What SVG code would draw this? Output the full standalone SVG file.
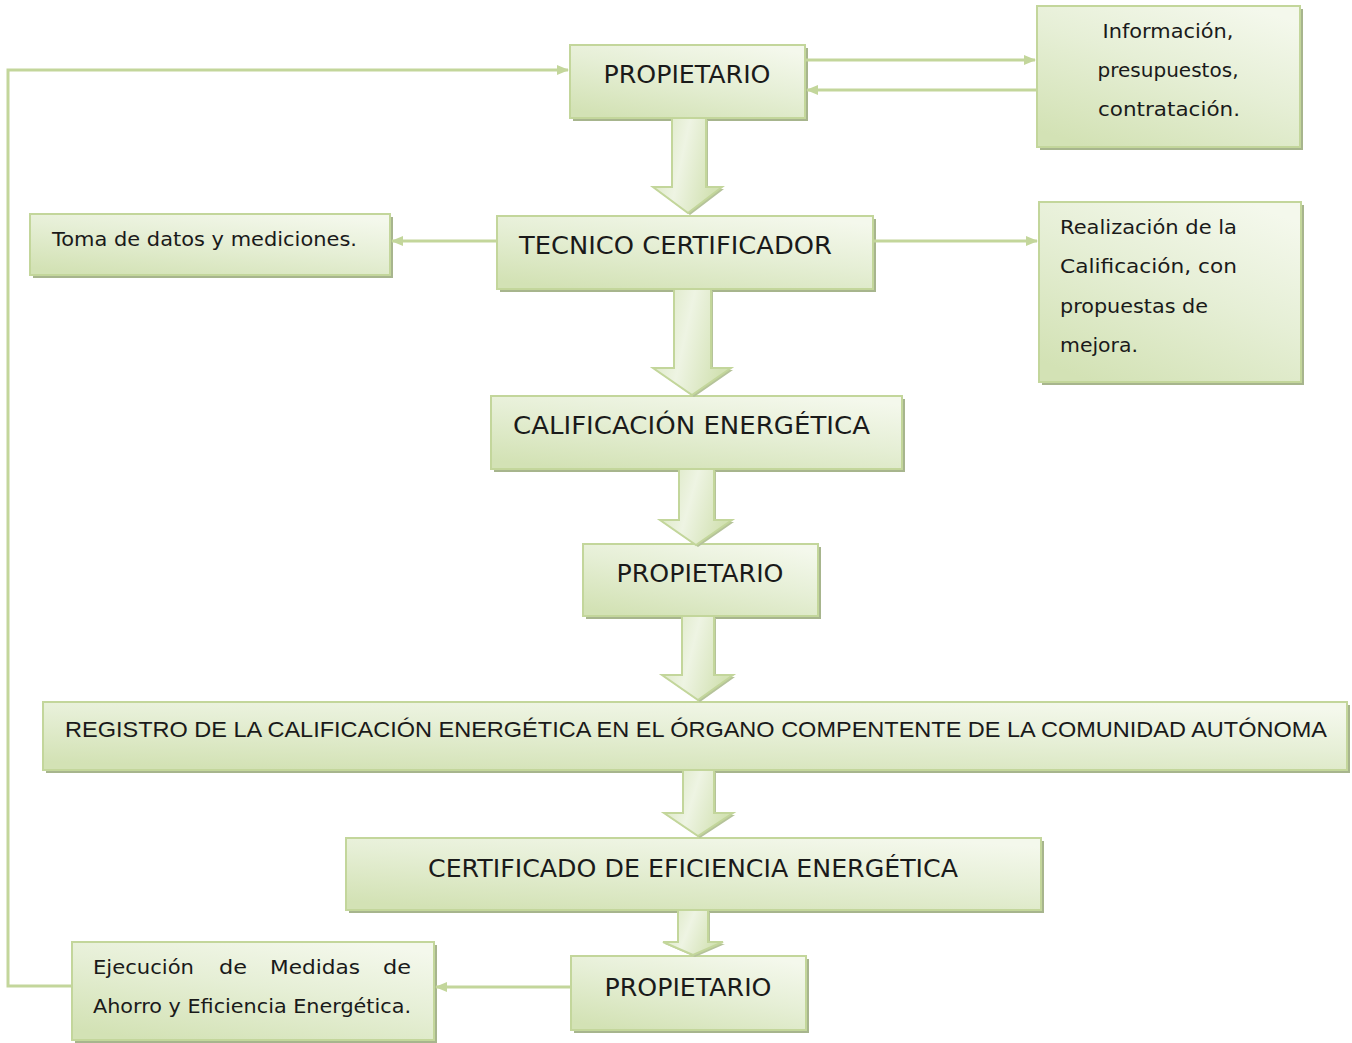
<svg xmlns="http://www.w3.org/2000/svg" width="1352" height="1043" viewBox="0 0 1352 1043">
<defs>
<linearGradient id="g" x1="0.2" y1="1" x2="0.8" y2="0">
<stop offset="0" stop-color="#d3e2b5"/>
<stop offset="0.55" stop-color="#e6efd6"/>
<stop offset="1" stop-color="#f4f8ec"/>
</linearGradient>
<linearGradient id="ga" x1="0" y1="0" x2="1" y2="0.3">
<stop offset="0" stop-color="#d6e4ba"/>
<stop offset="0.5" stop-color="#eef4e3"/>
<stop offset="1" stop-color="#d3e2b4"/>
</linearGradient>
<marker id="ah" viewBox="0 0 12 10" refX="11" refY="5" markerWidth="12" markerHeight="10" markerUnits="userSpaceOnUse" orient="auto">
<path d="M0,0 L12,5 L0,10 Z" fill="#c3d69b"/>
</marker>
</defs>
<style>
.box{fill:url(#g);stroke:#c3d69b;stroke-width:2}
.sh{fill:#a7b58d}
.big{font-family:"DejaVu Sans","Liberation Sans",sans-serif;font-size:24px;fill:#1a1a1a}
.reg{font-family:"Liberation Sans",Arial,sans-serif;font-size:21.5px;fill:#1a1a1a}
.sm{font-family:"DejaVu Sans","Liberation Sans",sans-serif;font-size:19.5px;fill:#1a1a1a}
.ln{fill:none;stroke:#c3d69b;stroke-width:3}
.blk{fill:url(#ga);stroke:#c3d69b;stroke-width:2}
.bsh{fill:#b5c39a}
</style>
<g id="p1"><rect class="sh" x="573" y="48" width="235" height="73"/><rect class="box" x="570" y="45" width="235" height="73"/><text class="big" x="687" y="83" text-anchor="middle" textLength="167" lengthAdjust="spacingAndGlyphs">PROPIETARIO</text></g>
<g id="info"><rect class="sh" x="1040" y="9" width="263" height="141"/><rect class="box" x="1037" y="6" width="263" height="141"/><text class="sm" x="1168" y="38" text-anchor="middle" textLength="131" lengthAdjust="spacingAndGlyphs">Información,</text><text class="sm" x="1168" y="77" text-anchor="middle" textLength="141" lengthAdjust="spacingAndGlyphs">presupuestos,</text><text class="sm" x="1169" y="116" text-anchor="middle" textLength="142" lengthAdjust="spacingAndGlyphs">contratación.</text></g>
<g id="toma"><rect class="sh" x="33" y="217" width="360" height="61"/><rect class="box" x="30" y="214" width="360" height="61"/><text class="sm" x="52" y="246" textLength="305" lengthAdjust="spacingAndGlyphs">Toma de datos y mediciones.</text></g>
<g id="tecnico"><rect class="sh" x="500" y="219" width="376" height="73"/><rect class="box" x="497" y="216" width="376" height="73"/><text class="big" x="519" y="254" textLength="313" lengthAdjust="spacingAndGlyphs">TECNICO CERTIFICADOR</text></g>
<g id="real"><rect class="sh" x="1042" y="205" width="262" height="180"/><rect class="box" x="1039" y="202" width="262" height="180"/><text class="sm" x="1060" y="234" textLength="177" lengthAdjust="spacingAndGlyphs">Realización de la</text><text class="sm" x="1060" y="273" textLength="177" lengthAdjust="spacingAndGlyphs">Calificación, con</text><text class="sm" x="1060" y="313" textLength="148" lengthAdjust="spacingAndGlyphs">propuestas de</text><text class="sm" x="1060" y="352" textLength="78" lengthAdjust="spacingAndGlyphs">mejora.</text></g>
<g id="calif"><rect class="sh" x="494" y="399" width="411" height="73"/><rect class="box" x="491" y="396" width="411" height="73"/><text class="big" x="513" y="434" textLength="357" lengthAdjust="spacingAndGlyphs">CALIFICACIÓN ENERGÉTICA</text></g>
<g id="p2"><rect class="sh" x="586" y="547" width="235" height="72"/><rect class="box" x="583" y="544" width="235" height="72"/><text class="big" x="700" y="582" text-anchor="middle" textLength="167" lengthAdjust="spacingAndGlyphs">PROPIETARIO</text></g>
<g id="registro"><rect class="sh" x="46" y="705" width="1304" height="68"/><rect class="box" x="43" y="702" width="1304" height="68"/><text class="reg" x="65" y="737" textLength="1262" lengthAdjust="spacingAndGlyphs">REGISTRO DE LA CALIFICACIÓN ENERGÉTICA EN EL ÓRGANO COMPENTENTE DE LA COMUNIDAD AUTÓNOMA</text></g>
<g id="cert"><rect class="sh" x="349" y="841" width="695" height="72"/><rect class="box" x="346" y="838" width="695" height="72"/><text class="big" x="428" y="877" textLength="530" lengthAdjust="spacingAndGlyphs">CERTIFICADO DE EFICIENCIA ENERGÉTICA</text></g>
<g id="p3"><rect class="sh" x="574" y="959" width="235" height="74"/><rect class="box" x="571" y="956" width="235" height="74"/><text class="big" x="688" y="996" text-anchor="middle" textLength="167" lengthAdjust="spacingAndGlyphs">PROPIETARIO</text></g>
<g id="ejec"><rect class="sh" x="75" y="945" width="362" height="98"/><rect class="box" x="72" y="942" width="362" height="98"/><text class="sm" x="93" y="974" textLength="101" lengthAdjust="spacingAndGlyphs">Ejecución</text><text class="sm" x="219" y="974" textLength="28" lengthAdjust="spacingAndGlyphs">de</text><text class="sm" x="270" y="974" textLength="90" lengthAdjust="spacingAndGlyphs">Medidas</text><text class="sm" x="383" y="974" textLength="28" lengthAdjust="spacingAndGlyphs">de</text><text class="sm" x="93" y="1013" textLength="318" lengthAdjust="spacingAndGlyphs">Ahorro y Eficiencia Energética.</text></g>
<g id="connectors">
<path class="ln" d="M805,60 H1035" marker-end="url(#ah)"/>
<path class="ln" d="M1037,90 H807" marker-end="url(#ah)"/>
<path class="ln" d="M497,241 H392" marker-end="url(#ah)"/>
<path class="ln" d="M873,241 H1037" marker-end="url(#ah)"/>
<path class="ln" d="M571,987 H436" marker-end="url(#ah)"/>
<path class="ln" d="M72,986 H8 V70 H568" marker-end="url(#ah)"/>
<polygon class="bsh" points="674,120 708,120 708,189 724,189 690,215 655,189 674,189"/>
<polygon class="blk" points="672,118 706,118 706,187 722,187 688,213 653,187 672,187"/>
<polygon class="bsh" points="676,291 713,291 713,370 733,370 694,397 655,370 676,370"/>
<polygon class="blk" points="674,289 711,289 711,368 731,368 692,395 653,368 674,368"/>
<polygon class="bsh" points="681,471 716,471 716,522 734,522 698,547 662,522 681,522"/>
<polygon class="blk" points="679,469 714,469 714,520 732,520 696,545 660,520 679,520"/>
<polygon class="bsh" points="684,618 716,618 716,677 735,677 700,702 664,677 684,677"/>
<polygon class="blk" points="682,616 714,616 714,675 733,675 698,700 662,675 682,675"/>
<polygon class="bsh" points="685,772 716,772 716,815 735,815 700,838 666,815 685,815"/>
<polygon class="blk" points="683,770 714,770 714,813 733,813 698,836 664,813 683,813"/>
<polygon class="bsh" points="680,912 710,912 710,944 725,944 695,957 665,944 680,944"/>
<polygon class="blk" points="678,910 708,910 708,942 723,942 693,955 663,942 678,942"/>
</g>
</svg>
